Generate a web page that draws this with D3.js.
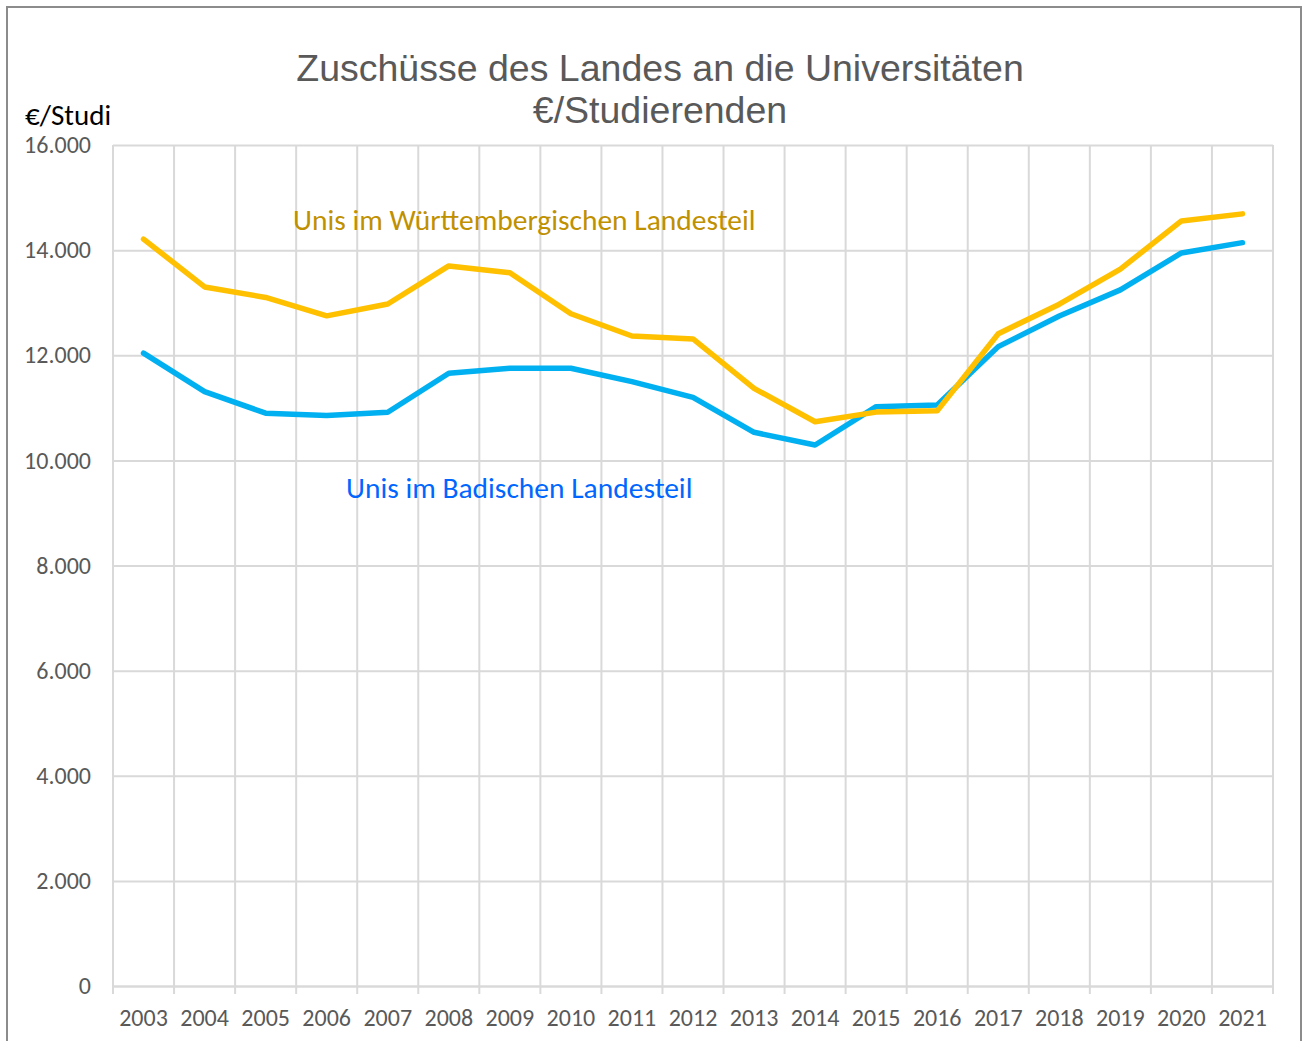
<!DOCTYPE html>
<html><head><meta charset="utf-8">
<script src="https://cdn.jsdelivr.net/npm/d3@7"></script>
<style>
body{margin:0;background:#fff;}
svg{display:block;}
</style></head>
<body>
<svg id="chart" width="1303" height="1041"></svg>
<script>
const years = ["2003","2004","2005","2006","2007","2008","2009","2010","2011","2012","2013","2014","2015","2016","2017","2018","2019","2020","2021"];
const wuerttemberg = [14210,13300,13100,12750,12975,13700,13570,12790,12367,12310,11370,10735,10918,10942,12410,12972,13640,14555,14690];
const baden = [12040,11307,10898,10852,10915,11657,11752,11752,11498,11200,10534,10293,11022,11052,12164,12748,13244,13946,14142];
const yTicks = [0,2000,4000,6000,8000,10000,12000,14000,16000];
const titleLines = ["Zuschüsse des Landes an die Universitäten","€/Studierenden"];
const yAxisTitle = "€/Studi";
const seriesLabels = ["Unis im Württembergischen Landesteil","Unis im Badischen Landesteil"];

const svg = d3.select("#chart");
const L = 113, R = 1273, T = 145, B = 986;
const font = "Carlito, Calibri, Lato, 'Open Sans', sans-serif";

// outer border
svg.append("rect").attr("x",7).attr("y",7).attr("width",1294).attr("height",1050)
  .attr("fill","none").attr("stroke","#8c8c8c").attr("stroke-width",2);

const x = d3.scaleBand().domain(years).range([L,R]).padding(0);
const y = d3.scaleLinear().domain([0,16000]).range([B,T]);

// horizontal grid
const gy = svg.append("g").attr("transform",`translate(${L},0)`)
  .call(d3.axisLeft(y).tickValues(yTicks).tickSize(-(R-L)).tickFormat(d=>d3.format(",")(d).replace(/,/g,".")).tickPadding(22));
gy.select(".domain").remove();
gy.selectAll(".tick line").attr("stroke","#d9d9d9").attr("stroke-width",2);
gy.selectAll(".tick text").attr("fill","#595959").style("font-family",font).style("font-size","24px");

// vertical grid lines at band boundaries
const bounds = years.map(d=>x(d)).concat([R]);
svg.append("g").selectAll("line").data(bounds).join("line")
  .attr("x1",d=>d).attr("x2",d=>d).attr("y1",T).attr("y2",B+8)
  .attr("stroke","#d9d9d9").attr("stroke-width",2);

// x axis labels
const gx = svg.append("g").attr("transform",`translate(0,${B})`)
  .call(d3.axisBottom(x).tickSize(0).tickPadding(23));
gx.select(".domain").attr("stroke","#d9d9d9").attr("stroke-width",2);
gx.selectAll(".tick text").attr("fill","#595959").style("font-family",font).style("font-size","24px");

// lines
const line = d3.line().x((d,i)=>x(years[i])+x.bandwidth()/2).y(d=>y(d));
svg.append("path").datum(baden).attr("d",line).attr("fill","none")
  .attr("stroke","#00b0f0").attr("stroke-width",5.5).attr("stroke-linejoin","round").attr("stroke-linecap","round");
svg.append("path").datum(wuerttemberg).attr("d",line).attr("fill","none")
  .attr("stroke","#ffc000").attr("stroke-width",5.5).attr("stroke-linejoin","round").attr("stroke-linecap","round");

// title
svg.append("g").selectAll("text").data(titleLines).join("text")
  .attr("x",660).attr("y",(d,i)=>81+i*42).attr("text-anchor","middle")
  .attr("fill","#595959").style("font-family","'Liberation Sans', Arial, sans-serif").style("font-size","37.5px")
  .text(d=>d);

// y axis title
svg.append("text").attr("x",25).attr("y",125).attr("fill","#000")
  .style("font-family",font).style("font-size","29px").text(yAxisTitle);

// series labels
svg.append("text").attr("x",293).attr("y",230).attr("fill","#bf9000")
  .style("font-family",font).style("font-size","29.5px").text(seriesLabels[0]);
svg.append("text").attr("x",346).attr("y",498).attr("fill","#0066ff")
  .style("font-family",font).style("font-size","29.5px").text(seriesLabels[1]);
</script>
</body></html>
